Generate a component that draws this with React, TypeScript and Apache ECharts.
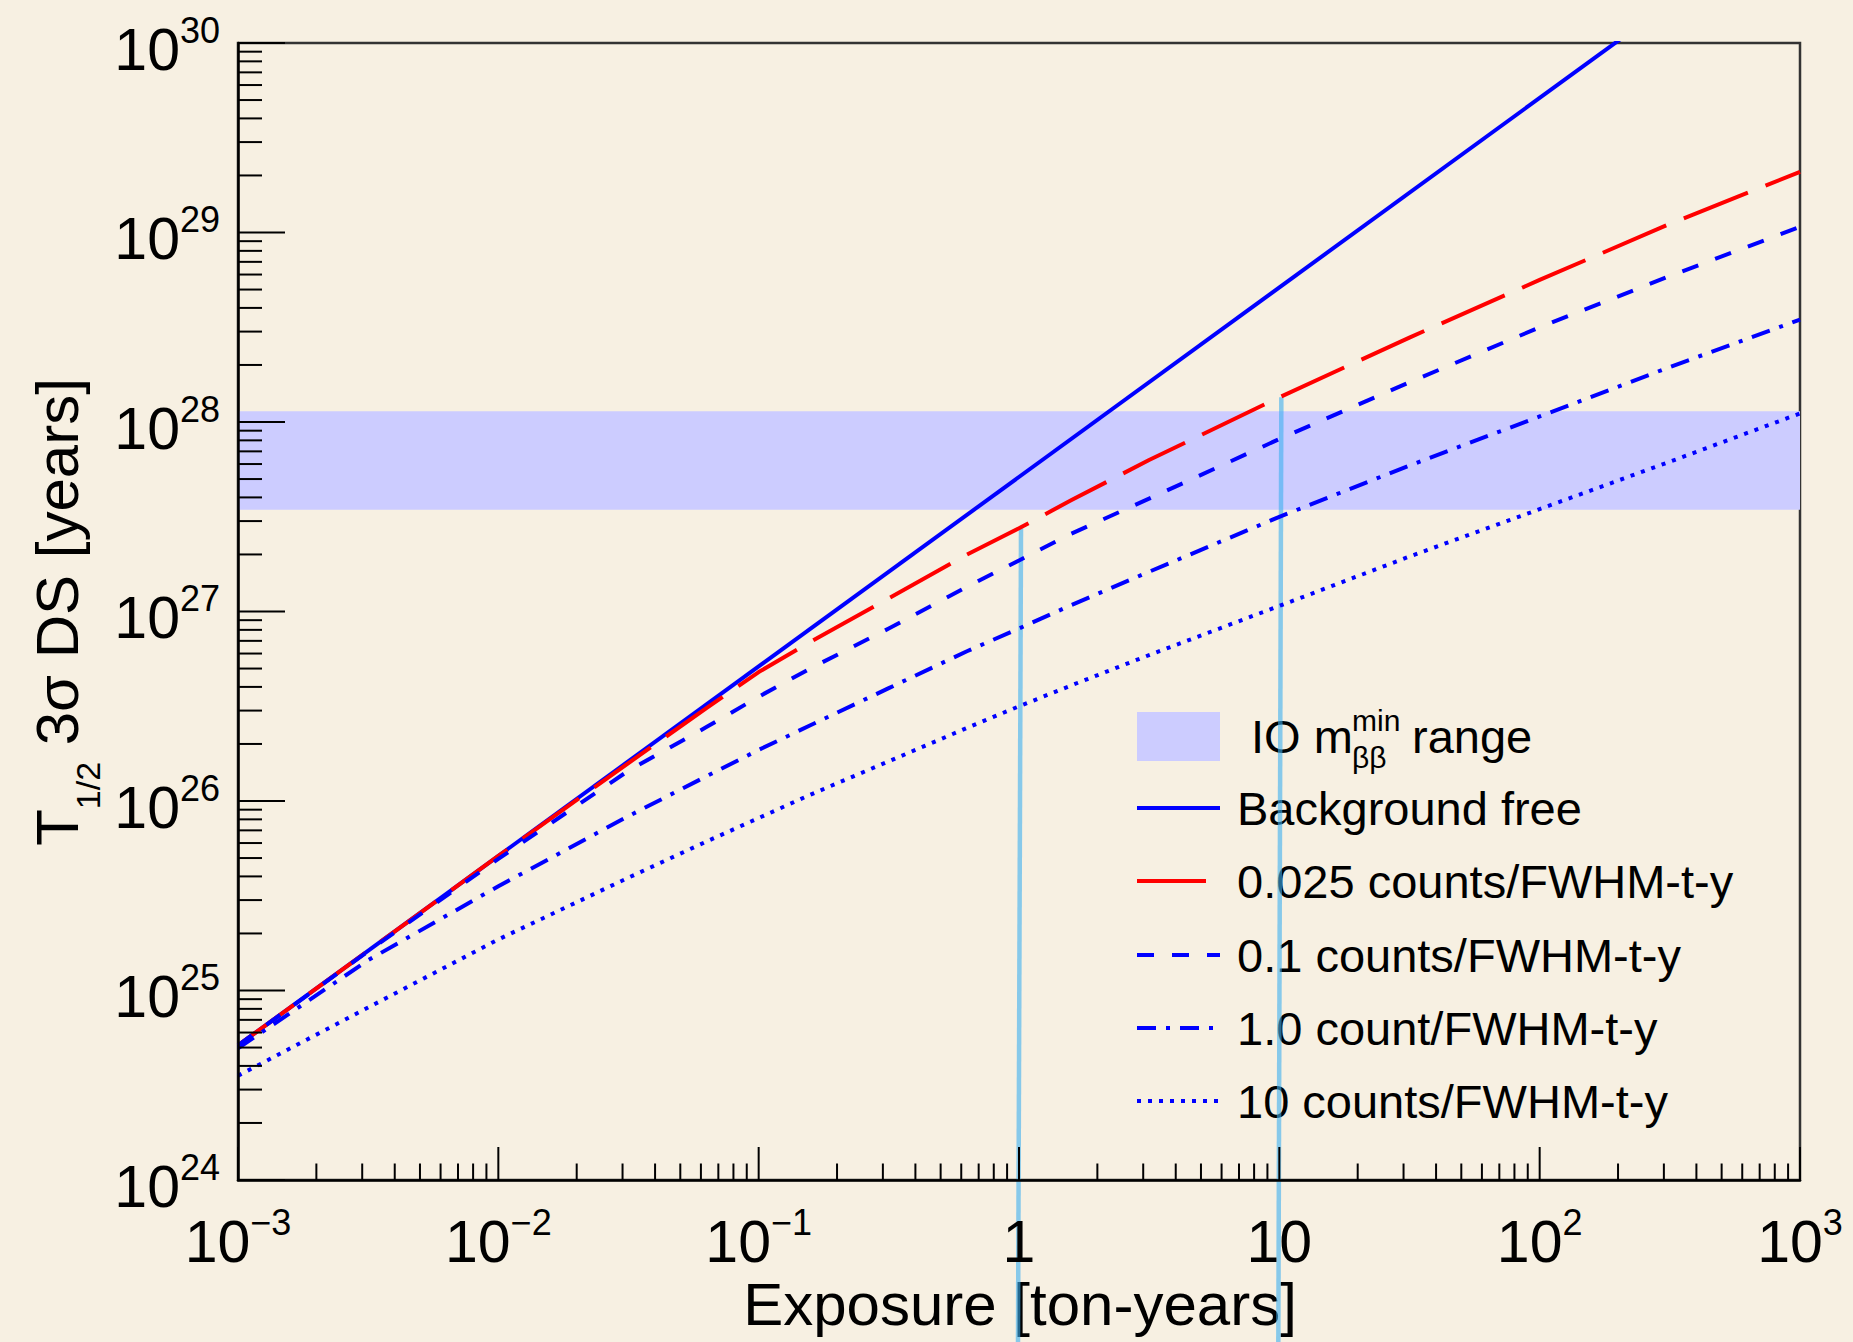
import React, { useEffect, useRef } from "react";
import * as echarts from "echarts";

const FONT = '"Liberation Sans", Arial, Helvetica, sans-serif';

// Exposure [ton-years] at which the curves were read
const exposure = [0.001, 0.00316, 0.01, 0.0316, 0.063, 0.1, 0.158, 0.316, 0.631, 1, 1.585, 3.16, 10, 31.6, 100, 316, 1000];
// Background free (straight line, clipped at the top of the frame)
const bgFreeExposure = [0.001, 1000];
const bgFreeT = [5.13e24, 5.13e30];
// 3 sigma discovery sensitivity [years]
const t0025 = [5.13e24, 1.62e25, 5.13e25, 1.585e26, 3.09e26, 4.79e26, 6.92e26, 1.175e27, 1.995e27, 2.75e27, 3.86e27, 6.3e27, 1.35e28, 2.79e28, 5.62e28, 1.11e29, 2.09e29];
const t01 = [5.13e24, 1.61e25, 4.95e25, 1.445e26, 2.455e26, 3.55e26, 5.01e26, 8.13e26, 1.35e27, 1.86e27, 2.57e27, 3.94e27, 8.13e27, 1.62e28, 3.16e28, 5.89e28, 1.07e29];
const t10 = [4.95e24, 1.445e25, 3.55e25, 8.32e25, 1.35e26, 1.86e26, 2.51e26, 3.94e26, 6.17e26, 8.13e26, 1.08e27, 1.62e27, 3.16e27, 5.89e27, 1.07e28, 1.95e28, 3.47e28];
const t100 = [3.55e24, 8.13e24, 1.86e25, 3.94e25, 6.11e25, 8.13e25, 1.08e26, 1.62e26, 2.43e26, 3.16e26, 4.07e26, 5.89e26, 1.07e27, 1.95e27, 3.47e27, 6.17e27, 1.11e28];
// IO m_bb^min band [years]
const ioBand = [3.44e27, 1.14e28];
// vertical guide lines at these exposures, up to the 0.025 curve
const markerExposure = [1, 10];

const xDecades = [-3, -2, -1, 0, 1, 2, 3];
const xTickBase = ["10", "10", "10", "1", "10", "10", "10"];
const xTickSup = ["\u22123", "\u22122", "\u22121", "", "", "2", "3"];
const yDecades = [24, 25, 26, 27, 28, 29, 30];
const yTickBase = ["10", "10", "10", "10", "10", "10", "10"];
const yTickSup = ["24", "25", "26", "27", "28", "29", "30"];

const legendNames = [
  "Background free",
  "0.025 counts/FWHM-t-y",
  "0.1 counts/FWHM-t-y",
  "1.0 count/FWHM-t-y",
  "10 counts/FWHM-t-y",
];
const legendColors = ["#0000ff", "#ff0000", "#0000ff", "#0000ff", "#0000ff"];
const dashes: (number[] | null)[] = [null, [69, 19], [17, 18], [19, 10, 4, 10], [4, 7]];

const X_MIN = 0.001;
const X_MAX = 1000;
const Y_MIN = 1e24;
const Y_MAX = 1e30;

function labelRich() {
  return {
    m: { fontSize: 59, lineHeight: 75, fontFamily: FONT, color: "#000" },
    s: { fontSize: 36, lineHeight: 36, verticalAlign: "top", fontFamily: FONT, color: "#000" },
  };
}

function fmt(value: number, decades: number[], base: string[], sup: string[]) {
  const k = Math.round(Math.log10(value));
  const i = decades.indexOf(k);
  if (i < 0 || Math.abs(Math.log10(value) - k) > 1e-6) return "";
  return sup[i] ? `{m|${base[i]}}{s|${sup[i]}}` : `{m|${base[i]}}`;
}

function buildTicks() {
  const out: number[][] = [];
  xDecades.forEach((k) => {
    const d = Math.pow(10, k);
    out.push([d, Y_MIN, 1]);
    if (k < xDecades[xDecades.length - 1]) {
      for (let m = 2; m <= 9; m++) out.push([m * d, Y_MIN, 0]);
    }
  });
  yDecades.forEach((k) => {
    const d = Math.pow(10, k);
    out.push([X_MIN, d, 3]);
    if (k < yDecades[yDecades.length - 1]) {
      for (let m = 2; m <= 9; m++) out.push([X_MIN, m * d, 2]);
    }
  });
  return out;
}

export default function App() {
  const ref = useRef<HTMLDivElement>(null);

  useEffect(() => {
    if (!ref.current) return;
    const chart = echarts.init(ref.current, null, { renderer: "svg" });

    const curveSets = [
      { x: bgFreeExposure, y: bgFreeT },
      { x: exposure, y: t0025 },
      { x: exposure, y: t01 },
      { x: exposure, y: t10 },
      { x: exposure, y: t100 },
    ];

    const lineSeries = curveSets.map((c, i) => ({
      type: "line",
      name: legendNames[i],
      data: c.x.map((e, j) => [e, c.y[j]]),
      symbol: "none",
      smooth: false,
      z: 12 + i * 0.1,
      silent: true,
      clip: true,
      lineStyle: {
        color: legendColors[i],
        width: 4,
        type: dashes[i] ? dashes[i] : "solid",
        cap: "butt",
        join: "round",
      },
    }));

    const markerTop = markerExposure.map((e) => t0025[exposure.indexOf(e)]);

    const LF = 47;
    const legendGraphics: any[] = [];
    const rowY = [808, 881, 955, 1028, 1101];
    legendGraphics.push({
      type: "rect",
      z: 5,
      shape: { x: 1137, y: 712, width: 83, height: 49 },
      style: { fill: "#ccccff" },
    });
    legendGraphics.push({
      type: "text",
      z: 5,
      x: 1251,
      y: 736,
      style: { text: "IO m", fontSize: LF, fontFamily: FONT, fill: "#000", align: "left", verticalAlign: "middle" },
    });
    legendGraphics.push({
      type: "text",
      z: 5,
      x: 1352,
      y: 720,
      style: { text: "min", fontSize: 30, fontFamily: FONT, fill: "#000", align: "left", verticalAlign: "middle" },
    });
    legendGraphics.push({
      type: "text",
      z: 5,
      x: 1352,
      y: 757,
      style: { text: "\u03b2\u03b2", fontSize: 30, fontFamily: FONT, fill: "#000", align: "left", verticalAlign: "middle" },
    });
    legendGraphics.push({
      type: "text",
      z: 5,
      x: 1412,
      y: 736,
      style: { text: "range", fontSize: LF, fontFamily: FONT, fill: "#000", align: "left", verticalAlign: "middle" },
    });
    legendNames.forEach((name, i) => {
      legendGraphics.push({
        type: "line",
        z: 5,
        shape: { x1: 1137, y1: rowY[i], x2: 1220, y2: rowY[i] },
        style: { stroke: legendColors[i], lineWidth: 4, lineDash: dashes[i] || null, lineCap: "butt" },
      });
      legendGraphics.push({
        type: "text",
        z: 5,
        x: 1237,
        y: rowY[i],
        style: { text: name, fontSize: LF, fontFamily: FONT, fill: "#000", align: "left", verticalAlign: "middle" },
      });
    });

    const option: any = {
      animation: false,
      backgroundColor: "#f7f0e2",
      grid: {
        left: 238,
        top: 43,
        width: 1562,
        height: 1137,
        show: true,
        borderColor: "#333",
        borderWidth: 2.5,
        backgroundColor: "transparent",
        containLabel: false,
        outerBoundsMode: "none",
      },
      xAxis: {
        type: "log",
        logBase: 10,
        min: X_MIN,
        max: X_MAX,
        z: 15,
        axisLine: { show: true, onZero: false, lineStyle: { color: "#000", width: 2.5 } },
        axisTick: { show: false },
        minorTick: { show: false },
        splitLine: { show: false },
        axisLabel: {
          margin: 24,
          showMinLabel: true,
          showMaxLabel: true,
          formatter: (v: number) => fmt(v, xDecades, xTickBase, xTickSup),
          rich: labelRich(),
        },
      },
      yAxis: {
        type: "log",
        logBase: 10,
        min: Y_MIN,
        max: Y_MAX,
        z: 15,
        axisLine: { show: true, onZero: false, lineStyle: { color: "#000", width: 2.5 } },
        axisTick: { show: false },
        minorTick: { show: false },
        splitLine: { show: false },
        axisLabel: {
          margin: 18,
          padding: [13, 0, 0, 0],
          showMinLabel: true,
          showMaxLabel: true,
          formatter: (v: number) => fmt(v, yDecades, yTickBase, yTickSup),
          rich: labelRich(),
        },
      },
      series: [
        {
          type: "custom",
          name: "band",
          z: 1,
          silent: true,
          data: [[X_MIN, ioBand[0], X_MAX, ioBand[1]]],
          encode: { x: [0, 2], y: [1, 3] },
          renderItem: (_p: any, api: any) => {
            const p1 = api.coord([api.value(0), api.value(3)]);
            const p2 = api.coord([api.value(2), api.value(1)]);
            return {
              type: "rect",
              shape: { x: p1[0], y: p1[1], width: p2[0] - p1[0], height: p2[1] - p1[1] },
              style: { fill: "#ccccff" },
            };
          },
        },
        {
          type: "custom",
          name: "markers",
          z: 10,
          silent: true,
          clip: false,
          data: markerExposure.map((e, i) => [e, markerTop[i]]),
          encode: { x: 0, y: 1 },
          renderItem: (_p: any, api: any) => {
            const p = api.coord([api.value(0), api.value(1)]);
            return {
              type: "line",
              shape: { x1: p[0] + 2, y1: p[1], x2: p[0] - 1, y2: api.getHeight() },
              style: { stroke: "rgba(60,175,240,0.6)", lineWidth: 4.5 },
            };
          },
        },
        ...lineSeries,
        {
          type: "custom",
          name: "ticks",
          z: 14,
          silent: true,
          clip: false,
          data: buildTicks(),
          encode: { x: 0, y: 1 },
          renderItem: (_p: any, api: any) => {
            const kind = api.value(2);
            const p = api.coord([api.value(0), api.value(1)]);
            let shape;
            if (kind < 2) {
              const len = kind === 1 ? 33 : 16.5;
              shape = { x1: p[0], y1: p[1], x2: p[0], y2: p[1] - len };
            } else {
              const len = kind === 3 ? 47 : 24;
              shape = { x1: p[0], y1: p[1], x2: p[0] + len, y2: p[1] };
            }
            return { type: "line", shape, style: { stroke: "#000", lineWidth: 2 } };
          },
        },
      ],
      graphic: [
        ...legendGraphics,
        {
          type: "text",
          z: 5,
          x: 1020,
          y: 1304,
          style: {
            text: "Exposure [ton-years]",
            fontSize: 60,
            fontFamily: FONT,
            fill: "#000",
            align: "center",
            verticalAlign: "middle",
          },
        },
        {
          type: "text",
          z: 5,
          x: 57,
          y: 612,
          rotation: Math.PI / 2,
          style: {
            text: "{m|T}{s|1/2}{m| 3\u03c3 DS [years]}",
            rich: {
              m: { fontSize: 60, lineHeight: 96, fontFamily: FONT, fill: "#000" },
              s: { fontSize: 34, lineHeight: 34, verticalAlign: "bottom", fontFamily: FONT, fill: "#000" },
            },
            fontFamily: FONT,
            align: "center",
            verticalAlign: "middle",
          },
        },
      ],
    };

    chart.setOption(option);
    return () => chart.dispose();
  }, []);

  return (
    <div
      ref={ref}
      style={{ position: "absolute", left: 0, top: 0, width: 1853, height: 1342 }}
    />
  );
}
